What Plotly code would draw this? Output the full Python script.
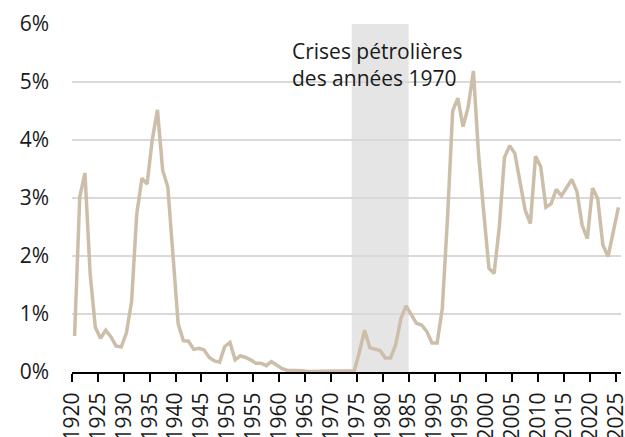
import plotly.graph_objects as go

years = list(range(1920, 2026))
values = [
    0.62, 3.02, 3.43, 1.70, 0.77, 0.58, 0.72, 0.61, 0.45, 0.43,   # 1920s
    0.67, 1.21, 2.72, 3.34, 3.24, 4.01, 4.52, 3.48, 3.19, 2.00,   # 1930s
    0.83, 0.54, 0.53, 0.39, 0.41, 0.38, 0.25, 0.19, 0.17, 0.44,   # 1940s
    0.51, 0.21, 0.28, 0.25, 0.21, 0.15, 0.15, 0.11, 0.18, 0.12,   # 1950s
    0.06, 0.03, 0.03, 0.03, 0.02, 0.01, 0.01, 0.01, 0.01, 0.01,   # 1960s
    0.01, 0.01, 0.01, 0.01, 0.02, 0.35, 0.72, 0.42, 0.39, 0.37,   # 1970s
    0.24, 0.24, 0.47, 0.92, 1.14, 1.00, 0.84, 0.81, 0.70, 0.50,   # 1980s
    0.50, 1.10, 2.65, 4.50, 4.72, 4.23, 4.57, 5.19, 3.75, 2.75,   # 1990s
    1.79, 1.70, 2.50, 3.70, 3.90, 3.77, 3.30, 2.79, 2.56, 3.72,   # 2000s
    3.54, 2.84, 2.90, 3.15, 3.04, 3.18, 3.32, 3.11, 2.53, 2.30,   # 2010s
    3.17, 2.99, 2.19, 1.99, 2.40, 2.84,                           # 2020s
]
shade_start, shade_end = 1974, 1985
annotation_text = "Crises pétrolières<br>des années 1970"
y_ticks = [0, 1, 2, 3, 4, 5, 6]
x_ticks = list(range(1920, 2026, 5))

FONT = "Open Sans"
fig = go.Figure()
fig.add_trace(go.Scatter(
    x=[y + 0.5 for y in years], y=values, mode="lines",
    line=dict(color="rgb(205,190,170)", width=3.5),
    hoverinfo="skip", showlegend=False,
))
fig.add_shape(type="rect", xref="x", yref="y",
              x0=shade_start, x1=shade_end, y0=0, y1=6,
              fillcolor="#e5e5e5", line=dict(width=0), layer="below")
fig.add_annotation(xref="paper", yref="y", x=0.397, y=5.3,
                   xanchor="left", yanchor="middle", align="left",
                   text=annotation_text, showarrow=False,
                   font=dict(family=FONT, size=21, color="#1a1a1a"))
fig.update_layout(
    width=625, height=437,
    margin=dict(l=72, r=4, t=24, b=65),
    paper_bgcolor="white", plot_bgcolor="white",
    font=dict(family=FONT, size=21, color="#1a1a1a"),
    xaxis=dict(range=[1920, 2026], tickmode="array", tickvals=x_ticks,
               ticktext=[str(t) for t in x_ticks], tickangle=-90,
               ticks="outside", ticklen=8, tickwidth=1.5, tickcolor="black",
               showline=True, linecolor="black", linewidth=2,
               showgrid=False, zeroline=False, automargin=False,
               ticklabeloverflow="allow", ticklabelstandoff=2,
               tickfont=dict(family=FONT, size=21, color="#1a1a1a")),
    yaxis=dict(range=[0, 6], tickmode="array", tickvals=y_ticks,
               ticktext=[f"{t}%" for t in y_ticks],
               showgrid=True, gridcolor="#d9d9d9", gridwidth=1.5,
               zeroline=False, showline=False, ticks="",
               ticklabelstandoff=22, automargin=False,
               tickfont=dict(family=FONT, size=21, color="#1a1a1a")),
)
fig.write_html("out.html", config={"displayModeBar": False},
               post_script="document.body.style.margin='0';document.body.style.padding='0';")
